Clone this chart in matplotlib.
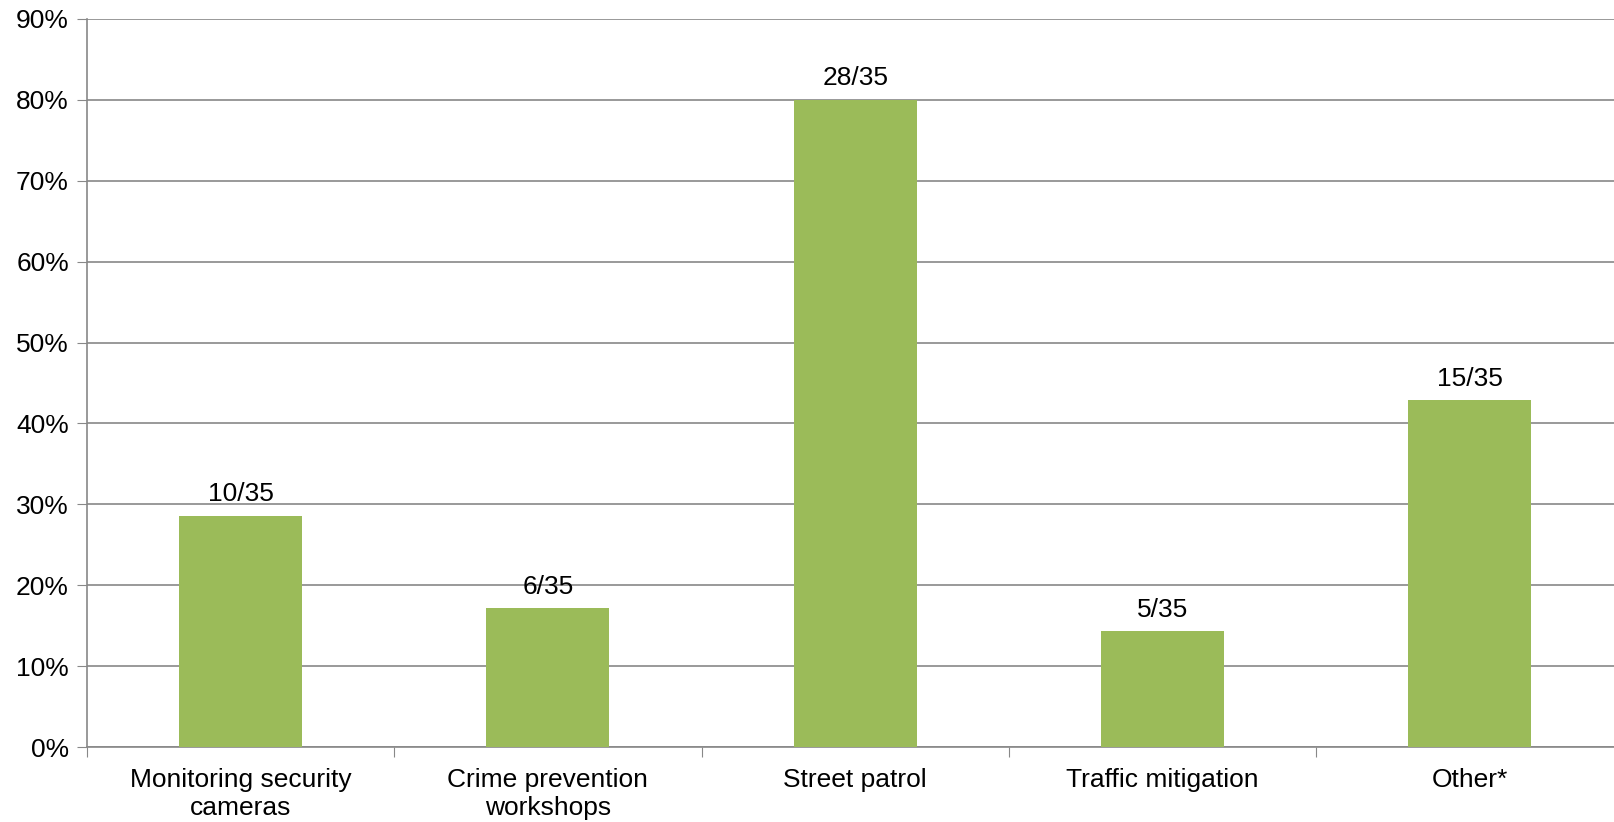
import matplotlib.pyplot as plt
from matplotlib.ticker import PercentFormatter

plt.rcParams['font.family'] = ['Liberation Sans', 'DejaVu Sans']

categories = ['Monitoring security\ncameras', 'Crime prevention\nworkshops', 'Street patrol',
              'Traffic mitigation', 'Other*']
counts = [10, 6, 28, 5, 15]
total = 35

pct = [100.0 * c / total for c in counts]
labels = ['%d/%d' % (c, total) for c in counts]

fig = plt.figure(figsize=(16.14, 8.22), dpi=100)
ax = fig.add_axes([87/1614, 75/822, 1 - 87/1614, (747 - 19)/822])

x = range(len(categories))
ax.bar(x, pct, width=0.4, color='#9BBB59', zorder=3)
for xi, p, lab in zip(x, pct, labels):
    ax.annotate(lab, (xi, p), xytext=(0, 7), textcoords='offset points',
                ha='center', va='bottom', fontsize=19)

ax.set_ylim(0, 90)
ax.set_yticks(range(0, 91, 10))
ax.yaxis.set_major_formatter(PercentFormatter(decimals=0))
ax.set_xlim(-0.5, (1614 - 87) / 307.25 - 0.5)
ax.set_xticks([i - 0.5 for i in x])
ax.set_xticklabels([])
ax.set_xticks(list(x), minor=True)
ax.set_xticklabels(categories, minor=True, fontsize=19, linespacing=1.2)
ax.tick_params(axis='x', which='minor', length=0, pad=15)
ax.tick_params(axis='x', which='major', length=7, color='#888888')
ax.tick_params(axis='y', length=7, color='#888888', labelsize=19, pad=6)

ax.grid(axis='y', color='#888888', linewidth=1.2, zorder=0)
for s in ['top', 'right']:
    ax.spines[s].set_visible(False)
for s in ['left', 'bottom']:
    ax.spines[s].set_color('#888888')
    ax.spines[s].set_linewidth(1.2)

fig.savefig('out.png', dpi=100)
